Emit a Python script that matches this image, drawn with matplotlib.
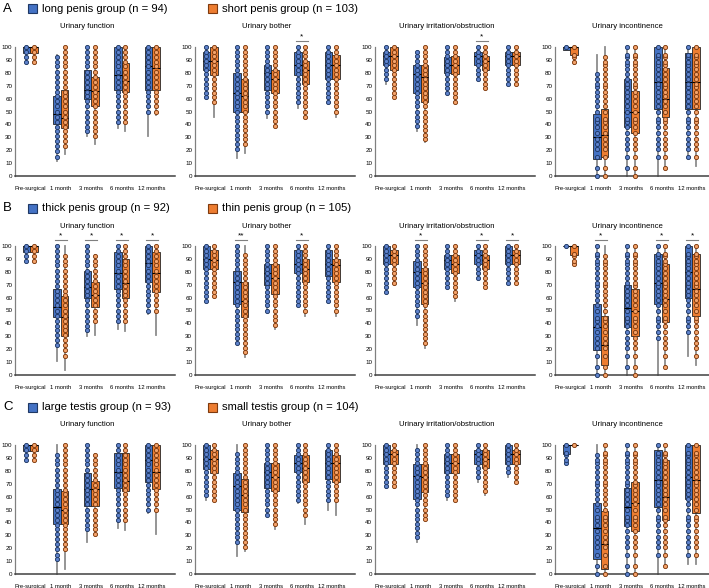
import matplotlib
matplotlib.use("Agg")
import matplotlib.pyplot as plt
from matplotlib.patches import Rectangle

plt.rcParams['font.family'] = ['Liberation Sans', 'DejaVu Sans']

TIMEPOINTS = ["Pre-surgical", "1 month", "3 months", "6 months", "12 months"]
DOMAINS = ["Urinary function", "Urinary bother", "Urinary irritation/obstruction", "Urinary incontinence"]

# score levels where patients sit (dots), per domain
FUNC_LEVELS = [0, 4, 8, 12, 15, 19, 23, 27, 31, 35, 38, 42, 46, 50, 54, 58, 62, 65, 69, 73, 77, 81, 85, 88, 92, 96, 100]
BOTHER_LEVELS = [0, 4, 7, 11, 14, 18, 21, 25, 29, 32, 36, 39, 43, 46, 50, 54, 57, 61, 64, 68, 71, 75, 79, 82, 86, 89, 93, 96, 100]
IRR_LEVELS = [0, 4, 7, 11, 14, 18, 21, 25, 29, 32, 36, 39, 43, 46, 50, 54, 57, 61, 64, 68, 71, 75, 79, 82, 86, 89, 93, 96, 100]
INC_LEVELS = [0, 6, 15, 21, 25, 29, 33, 38, 42, 44, 50, 54, 58, 62, 65, 69, 71, 75, 79, 83, 86, 88, 92, 94, 100]
LEVELS = [FUNC_LEVELS, BOTHER_LEVELS, IRR_LEVELS, INC_LEVELS]

# (whisker low, q1, median, q3, whisker high, lowest dot, highest dot)
long_func = [(88, 95, 100, 100, 100, 88, 100), (12, 40, 48, 62, 94, 15, 93), (31, 60, 67, 82, 100, 33, 100), (37, 67, 78, 100, 100, 40, 100), (31, 67, 85, 100, 100, 47, 100)]
short_func = [(88, 95, 100, 100, 100, 88, 100), (17, 37, 45, 67, 100, 20, 100), (25, 54, 66, 77, 100, 30, 100), (35, 65, 73.5, 87.6, 100, 40, 100), (47, 67, 84, 100, 100, 47, 100)]
long_bother = [(61, 82, 89, 96, 100, 61, 100), (14, 50, 64, 80, 100, 21, 100), (45, 67, 80, 86, 100, 50, 100), (53, 78, 86, 96, 100, 57, 100), (57, 75, 86, 96, 100, 57, 100)]
short_bother = [(46, 78, 89, 100, 100, 57, 100), (17.5, 50, 62, 75, 100, 25, 100), (38, 64, 75, 82, 100, 39, 100), (45, 71, 82, 89, 100, 46, 100), (46, 75, 86, 94, 100, 50, 100)]
long_irr = [(71, 86, 93, 96, 100, 75, 100), (35, 64, 79, 86, 96, 39, 96), (64, 80, 86, 92, 100, 64, 100), (75, 86, 93, 96, 100, 75, 100), (71, 86, 93, 96, 100, 71, 100)]
short_irr = [(61, 82, 93, 100, 100, 61, 100), (26, 57, 77, 86, 100, 29, 100), (57, 79, 86, 93, 100, 57, 100), (68, 82, 89, 93, 100, 68, 100), (71, 86, 93, 96, 100, 71, 100)]
long_inc = [(98, 98, 100, 100, 100, 100, 100), (0, 13, 30, 48, 94, 0, 80), (0, 38, 50, 75, 100, 6, 100), (0, 52, 73, 100, 100, 15, 100), (15, 52, 73, 95, 100, 15, 100)]
short_inc = [(87, 93.5, 100, 100, 100, 87, 100), (0, 15, 32, 52, 100, 0, 92), (0, 33, 50, 66, 100, 0, 100), (6, 46, 60, 84, 100, 6, 100), (8, 52, 73, 100, 100, 8, 100)]

thick_func = [(88, 95, 100, 100, 100, 88, 100), (11, 45, 53, 67, 100, 20, 100), (30, 60, 68, 81, 100, 33, 100), (36, 67, 79, 95, 100, 40, 100), (47, 72, 87, 100, 100, 48, 100)]
thin_func = [(88, 95, 100, 100, 100, 88, 100), (4, 30, 45, 61, 100, 15, 93), (31, 53, 62, 72, 93, 40, 93), (34, 60, 71, 90, 100, 40, 100), (31, 64, 79, 95, 100, 47, 100)]
thick_bother = [(57, 82, 90, 100, 100, 57, 100), (24, 55, 72, 81, 100, 25, 100), (49, 70, 79, 86, 100, 50, 100), (54, 79, 86, 97, 100, 54, 100), (57, 77, 86, 97, 100, 57, 100)]
thin_bother = [(61, 82, 89, 97, 100, 61, 100), (14, 45, 57, 72, 100, 18, 93), (36, 63, 75, 86, 100, 39, 100), (46, 72, 82, 90, 100, 50, 100), (46, 72, 85, 90, 100, 50, 100)]
thick_irr = [(64, 86, 93, 100, 100, 64, 100), (39, 68, 80, 88, 100, 46, 100), (68, 82, 89, 93, 100, 68, 100), (75, 86, 93, 97, 100, 75, 100), (71, 86, 93, 100, 100, 71, 100)]
thin_irr = [(71, 86, 93, 97, 100, 71, 100), (21, 55, 71, 83, 100, 25, 100), (57, 79, 86, 93, 100, 61, 100), (68, 82, 89, 93, 100, 68, 100), (71, 86, 93, 97, 100, 71, 100)]
thick_inc = [(100, 100, 100, 100, 100, 100, 100), (0, 19, 37, 55, 100, 0, 100), (0, 37, 52, 70, 100, 6, 100), (0, 55, 71, 94, 100, 29, 100), (15, 60, 80, 100, 100, 31, 100)]
thin_inc = [(85, 93, 100, 100, 100, 85, 100), (0, 8, 23, 46, 100, 0, 92), (0, 30, 50, 67, 100, 0, 100), (6, 41, 59, 86, 100, 6, 100), (8, 46, 67, 94, 100, 8, 100)]

large_func = [(88, 95, 100, 100, 100, 88, 100), (0, 39, 52, 66, 100, 12, 93), (25, 53, 66, 78, 100, 33, 100), (36, 67, 79, 93.5, 100, 40, 100), (47, 71, 88, 100, 100, 47, 100)]
small_func = [(88, 95, 100, 100, 100, 88, 100), (4, 39, 50, 64, 100, 17, 100), (31, 53, 66, 72, 93, 31, 93), (34, 64, 72, 93.5, 100, 40, 100), (31, 66, 79, 100, 100, 47, 100)]
large_bother = [(57, 81.5, 89, 100, 100, 61, 100), (14, 50, 68, 78, 100, 25, 93), (45, 67, 79, 86, 100, 46, 100), (55, 79, 86, 92, 100, 57, 100), (50, 74, 86, 96, 100, 57, 100)]
small_bother = [(57, 78, 89, 96, 100, 57, 100), (17.5, 48, 61, 74, 100, 21, 100), (35, 64, 75, 86, 100, 39, 100), (39, 71, 82, 92, 100, 46, 100), (45.5, 71, 86, 92, 100, 57, 100)]
large_irr = [(67, 85, 93, 100, 100, 68, 100), (25, 58, 76, 85, 100, 27, 96), (57, 78, 86, 93, 100, 61, 100), (71, 85, 93, 96, 100, 75, 100), (75, 85, 93, 100, 100, 78, 100)]
small_irr = [(67, 85, 93, 96, 100, 67, 100), (42, 63.5, 75, 85, 100, 43, 100), (57, 78, 86, 93, 100, 57, 100), (61, 82, 89, 96, 100, 64, 100), (71, 85, 93, 96, 100, 71, 100)]
large_inc = [(86, 93, 100, 100, 100, 86, 100), (0, 12, 36, 55, 100, 0, 92), (0, 37, 52, 67, 100, 0, 100), (0, 52, 73, 96, 100, 15, 100), (8, 58, 75, 100, 100, 15, 100)]
small_inc = [(100, 100, 100, 100, 100, 100, 100), (0, 4, 23, 49, 100, 0, 100), (0, 33, 55, 71, 100, 0, 100), (6, 42, 60, 88, 100, 6, 100), (8, 47, 73, 100, 100, 8, 100)]

ROWS = [
    ("A", "long penis group (n = 94)", "short penis group (n = 103)",
     [long_func, long_bother, long_irr, long_inc], [short_func, short_bother, short_irr, short_inc]),
    ("B", "thick penis group (n = 92)", "thin penis group (n = 105)",
     [thick_func, thick_bother, thick_irr, thick_inc], [thin_func, thin_bother, thin_irr, thin_inc]),
    ("C", "large testis group (n = 93)", "small testis group (n = 104)",
     [large_func, large_bother, large_irr, large_inc], [small_func, small_bother, small_irr, small_inc]),
]

# significance marks: row -> domain -> {timepoint index: label}
SIG = [
    [{}, {3: "*"}, {3: "*"}, {}],
    [{1: "*", 2: "*", 3: "*", 4: "*"}, {1: "**", 3: "*"}, {1: "*", 3: "*", 4: "*"}, {1: "*", 3: "*", 4: "*"}],
    [{}, {}, {}, {}],
]

BLUE = "#4472C4"
ORANGE = "#ED7D31"
BLUE_DOT = ("#5E82CC", "#1F3864")
ORANGE_DOT = ("#F4A36B", "#7F3A0E")

W, H = 709, 588
fig = plt.figure(figsize=(W / 100, H / 100), dpi=100)


def draw_group(ax, stats, offset, color, dot_colors, levels):
    positions = [i + offset for i in range(len(stats))]
    bstats = [dict(whislo=s[0], q1=s[1], med=s[2], q3=s[3], whishi=s[4], fliers=[]) for s in stats]
    art = ax.bxp(bstats, positions=positions, widths=0.25, patch_artist=True, showcaps=False,
                 boxprops=dict(facecolor=color, edgecolor="#262626", linewidth=0.6),
                 whiskerprops=dict(color="#8C8C8C", linewidth=1.3),
                 medianprops=dict(color="black", linewidth=0.8), manage_ticks=False)
    for w in art["whiskers"]:
        w.set_zorder(1)
        w.set_clip_on(False)
    for b in art["boxes"]:
        b.set_zorder(2)
        b.set_clip_on(False)
    for m in art["medians"]:
        m.set_zorder(3)
        m.set_clip_on(False)
    for x, s in zip(positions, stats):
        ys = [v for v in levels if s[5] <= v <= s[6]]
        ax.scatter([x] * len(ys), ys, s=9, facecolor=dot_colors[0], edgecolor=dot_colors[1],
                   linewidth=0.65, zorder=4, clip_on=False)


for r, (letter, lab1, lab2, blue_sets, orange_sets) in enumerate(ROWS):
    top_px = 47 + 199 * r
    # header legend
    yc = 1 - (8.5 + 199.5 * r) / H
    fig.text(3 / W, yc, letter, fontsize=9.5, va="center", ha="left")
    fig.patches.append(Rectangle((28 / W, yc - 4.5 / H), 9 / W, 9 / H, transform=fig.transFigure,
                                 facecolor=BLUE, edgecolor="#1F3864", linewidth=0.8))
    fig.text(42 / W, yc, lab1, fontsize=8.1, va="center", ha="left")
    fig.patches.append(Rectangle((208 / W, yc - 4.5 / H), 9 / W, 9 / H, transform=fig.transFigure,
                                 facecolor=ORANGE, edgecolor="#7F3A0E", linewidth=0.8))
    fig.text(222 / W, yc, lab2, fontsize=8.1, va="center", ha="left")

    for c in range(4):
        left_px = 15 + 180 * c
        ax = fig.add_axes([left_px / W, 1 - (top_px + 129) / H, 160 / W, 129 / H])
        draw_group(ax, blue_sets[c], -0.125, BLUE, BLUE_DOT, LEVELS[c])
        draw_group(ax, orange_sets[c], 0.125, ORANGE, ORANGE_DOT, LEVELS[c])
        ax.set_xlim(-0.5, 4.75)
        ax.set_ylim(0, 100)
        ax.set_yticks(range(0, 101, 10))
        ax.set_xticks(range(len(TIMEPOINTS)))
        ax.set_xticklabels(TIMEPOINTS)
        ax.tick_params(axis="y", labelsize=4.5, length=0, pad=2)
        ax.tick_params(axis="x", labelsize=4.2, length=0, pad=7)
        for side in ("top", "right"):
            ax.spines[side].set_visible(False)
        ax.spines["left"].set_color("#808080")
        ax.spines["bottom"].set_color("#404040")
        ax.spines["left"].set_linewidth(0.9)
        ax.spines["bottom"].set_linewidth(1.1)
        ax.text(0.45, 1 + 20 / 129, DOMAINS[c], transform=ax.transAxes, ha="center", va="center",
                fontsize=5.6)
        for t, label in SIG[r][c].items():
            ax.plot([t - 0.2, t + 0.2], [104.5, 104.5], color="#7F7F7F", linewidth=0.8, clip_on=False)
            ax.text(t, 104.8, label, ha="center", va="bottom", fontsize=6, clip_on=False)

fig.savefig("out.png", dpi=100)
